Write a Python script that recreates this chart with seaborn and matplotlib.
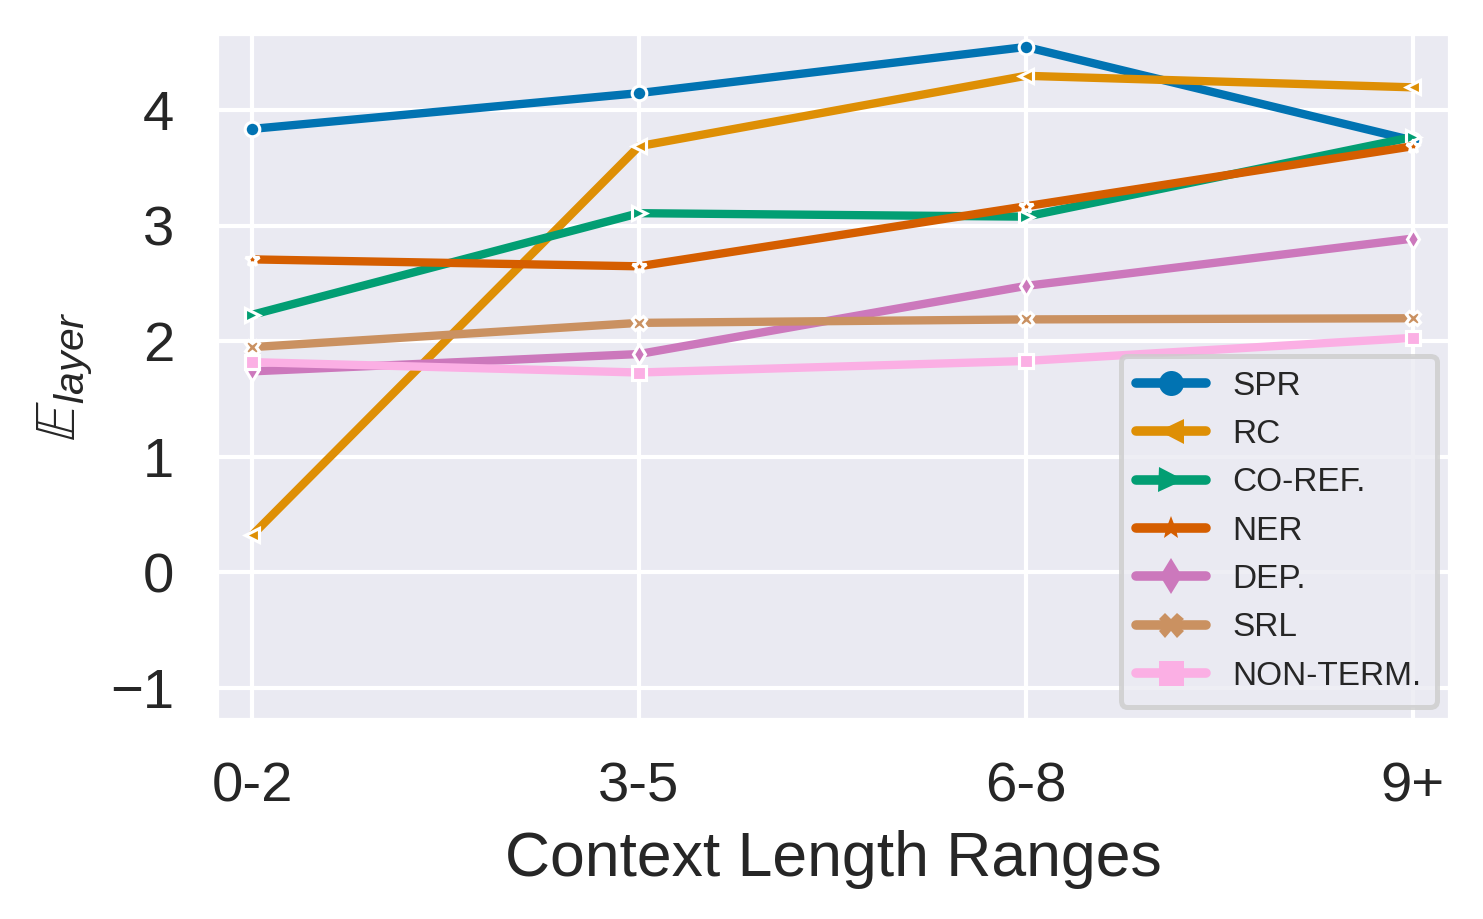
import matplotlib
matplotlib.use("Agg")
import matplotlib.pyplot as plt
import seaborn as sns
import pandas as pd

# Values
RANGES = ["0-2", "3-5", "6-8", "9+"]
TASKS = ["SPR", "RC", "CO-REF.", "NER", "DEP.", "SRL", "NON-TERM."]
SPR = [3.84, 4.15, 4.55, 3.74]
RC = [0.32, 3.69, 4.30, 4.20]
COREF = [2.23, 3.11, 3.08, 3.77]
NER = [2.71, 2.65, 3.17, 3.69]
DEP = [1.74, 1.89, 2.48, 2.89]
SRL = [1.95, 2.16, 2.19, 2.20]
NONTERM = [1.82, 1.73, 1.83, 2.03]
MARKERS = ["o", "<", ">", "*", "d", "X", "s"]

sns.set_theme(style="darkgrid", palette="colorblind")
plt.rcParams['font.family'] = ['Liberation Sans', 'DejaVu Sans']
plt.rcParams['mathtext.fontset'] = 'custom'
plt.rcParams['mathtext.rm'] = 'Liberation Sans'
plt.rcParams['mathtext.it'] = 'Liberation Sans:italic'

series = [SPR, RC, COREF, NER, DEP, SRL, NONTERM]
rows = []
for task, vals in zip(TASKS, series):
    for r, v in zip(RANGES, vals):
        rows.append({"range": r, "task": task, "value": v})
df = pd.DataFrame(rows)

fig = plt.figure(figsize=(1483 / 300, 919 / 300), dpi=300)
ax = fig.add_axes([0.1457, 0.2165, 0.832, 0.7475])

sns.lineplot(
    data=df, x="range", y="value", hue="task", style="task",
    hue_order=TASKS, style_order=TASKS,
    markers=dict(zip(TASKS, MARKERS)), dashes=False,
    linewidth=2, markersize=3.5, ax=ax,
)

ax.set_xlim(-0.093, 3.096)
ax.set_ylim(-1.28, 4.67)
ax.set_yticks([-1, 0, 1, 2, 3, 4])
ax.tick_params(axis="both", labelsize=13.5, pad=4)
ax.set_xlabel("Context Length Ranges", fontsize=15)
ax.set_ylabel(r"$\mathbb{E}_{layer}$", fontsize=14)

leg = ax.legend(loc="lower right", fontsize=8, frameon=True,
                facecolor="#EAEAF2", edgecolor="#cccccc",
                borderaxespad=0.4, handlelength=2.1, labelspacing=0.52,
                borderpad=0.45)
leg.get_frame().set_linewidth(1.2)
for line in leg.get_lines():
    line.set_linewidth(2.3)
    line.set_markersize(6)
    line.set_markeredgewidth(0)

fig.savefig("out.png", dpi=300)
